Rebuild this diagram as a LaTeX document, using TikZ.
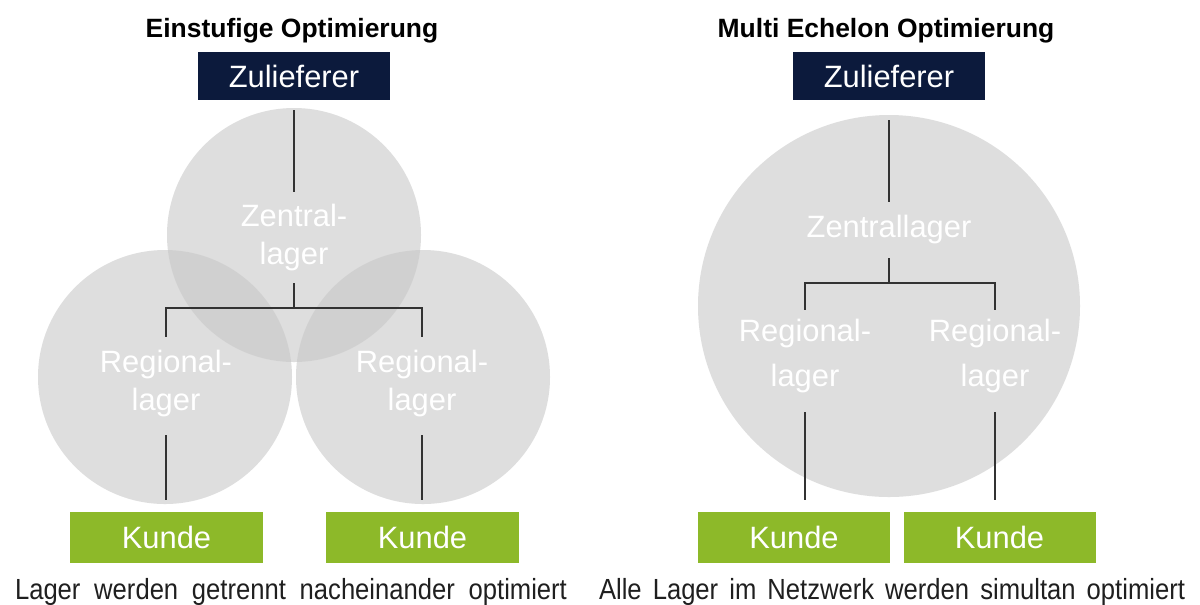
\documentclass[tikz,border=0pt]{standalone}
\usepackage{fontspec}
\setmainfont{Liberation Sans}
\newfontfamily\capfont[FakeStretch=0.88]{Liberation Sans}
\definecolor{navy}{RGB}{12,26,60}
\definecolor{kgreen}{RGB}{141,185,41}
\definecolor{cgray}{RGB}{200,200,200}
\definecolor{lgray}{RGB}{50,50,50}
\newcommand\pxu{0.5669pt}
\begin{document}
\begin{tikzpicture}[x=0.5669pt,y=-0.5669pt,
  titlestyle/.style={font=\fontsize{15}{18}\selectfont\bfseries, text=black, inner sep=0pt},
  supbox/.style={fill=navy, text=white, minimum width=192*\pxu, minimum height=48*\pxu, inner sep=0pt, font=\fontsize{17.5}{21}\selectfont},
  kundebox/.style={fill=kgreen, text=white, minimum width=193*\pxu, minimum height=51*\pxu, inner sep=0pt, font=\fontsize{17.5}{21}\selectfont},
  lagertext/.style={text=white, align=center, inner sep=0pt, font=\fontsize{17.5}{22}\selectfont},
  circ/.style={fill=cgray, fill opacity=0.6},
  conn/.style={draw=lgray, line width=1.2pt},
  captionstyle/.style={font=\capfont\fontsize{16.5}{19}\selectfont, text=black!88, inner sep=0pt, anchor=base}
]
\fill[white] (0,0) rectangle (1200,604);
\useasboundingbox (0,0) rectangle (1200,604);

% ---------- left ----------
\node[titlestyle] (title1) at (292,31) {Einstufige Optimierung};
\node[supbox] (zl1) at (294,76) {Zulieferer};

\fill[circ] (294,235) circle[radius=127*\pxu];
\fill[circ] (165,377) circle[radius=127*\pxu];
\fill[circ] (423,377) circle[radius=127*\pxu];

\node[lagertext, minimum height=91*\pxu] (zen1) at (294,237.5) {Zentral-\\lager};
\node[lagertext, minimum height=93*\pxu] (reg1) at (166,383.5) {Regional-\\lager};
\node[lagertext, minimum height=93*\pxu] (reg2) at (422,383.5) {Regional-\\lager};
\coordinate (j1) at (294,308);

\node[kundebox] (k1) at (166.5,537.5) {Kunde};
\node[kundebox] (k2) at (422.5,537.5) {Kunde};

\draw[conn, shorten <=10*\pxu] (zl1.south) -- (zen1.north);
\draw[conn] (zen1.south) -- (j1);
\draw[conn] (reg1.north) |- (j1) -| (reg2.north);
\draw[conn, shorten <=5*\pxu, shorten >=12*\pxu] (reg1.south) -- (reg1.south |- k1.north);
\draw[conn, shorten <=5*\pxu, shorten >=12*\pxu] (reg2.south) -- (reg2.south |- k2.north);

\node[captionstyle] (cap1) at (291,599) {\makebox[312.9pt][s]{Lager werden getrennt nacheinander optimiert}};

% ---------- right ----------
\node[titlestyle] (title2) at (886,31) {Multi Echelon Optimierung};
\node[supbox] (zl2) at (889,76) {Zulieferer};

\fill[circ] (889,306) circle[radius=191*\pxu];

\node[lagertext, minimum height=56*\pxu] (zen2) at (889,230) {Zentrallager};
\node[lagertext, minimum height=92*\pxu, font=\fontsize{17.5}{25.5}\selectfont] (reg3) at (805,356) {Regional-\\lager};
\node[lagertext, minimum height=92*\pxu, font=\fontsize{17.5}{25.5}\selectfont] (reg4) at (995,356) {Regional-\\lager};
\coordinate (j2) at (889,283);

\node[kundebox, minimum width=192*\pxu] (k3) at (794,537.5) {Kunde};
\node[kundebox, minimum width=192*\pxu] (k4) at (999.5,537.5) {Kunde};

\draw[conn, shorten <=20*\pxu] (zl2.south) -- (zen2.north);
\draw[conn] (zen2.south) -- (j2);
\draw[conn] (reg3.north) |- (j2) -| (reg4.north);
\draw[conn, shorten <=10*\pxu, shorten >=12*\pxu] (reg3.south) -- (reg3.south |- k3.north);
\draw[conn, shorten <=10*\pxu, shorten >=12*\pxu] (reg4.south) -- (reg4.south |- k4.north);

\node[captionstyle] (cap2) at (892,599) {\makebox[332.2pt][s]{Alle Lager im Netzwerk werden simultan optimiert}};
\end{tikzpicture}
\end{document}
